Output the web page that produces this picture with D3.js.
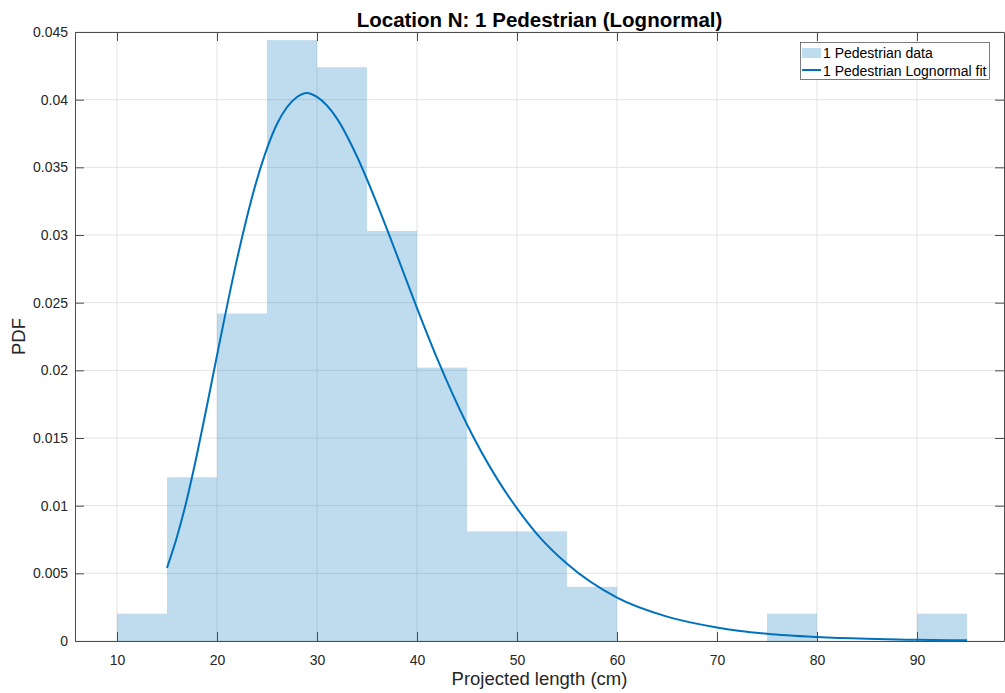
<!DOCTYPE html>
<html>
<head>
<meta charset="utf-8">
<script src="https://cdn.jsdelivr.net/npm/d3@7"></script>
<style>
  body { margin: 0; background: #fff; }
  text { font-family: "Liberation Sans", Arial, sans-serif; }
</style>
</head>
<body>
<div id="chart"></div>
<script>
// histogram bins (left edge, right edge) and PDF heights
var binEdges = [10, 15, 20, 25, 30, 35, 40, 45, 50, 55, 60, 65, 70, 75, 80, 85, 90, 95];
var binPdf = [0.00202, 0.0121, 0.0242, 0.0444, 0.0424, 0.0303, 0.0202, 0.0081, 0.0081, 0.0040,
  0, 0, 0, 0.00202, 0, 0, 0.00202];

// lognormal fit curve
var fitX = [15, 16, 17, 18, 19, 20, 22, 24, 26, 28, 29, 30, 32, 34, 36, 38, 40, 42, 45, 48, 50, 52,
  55, 60, 65, 70, 75, 80, 85, 90, 95];
var fitY = [0.0054, 0.0077, 0.0105, 0.0138, 0.0174, 0.0211, 0.0282, 0.0341, 0.0382, 0.0402, 0.0405,
  0.0402, 0.0386, 0.0358, 0.0323, 0.0285, 0.0246, 0.0209, 0.0160, 0.0120, 0.0098, 0.0079, 0.0057,
  0.0032, 0.0018, 0.0010, 0.00053, 0.00029, 0.00016, 0.00009, 0.00005];

var xTicks = [10, 20, 30, 40, 50, 60, 70, 80, 90];
var yTicks = [0, 0.005, 0.01, 0.015, 0.02, 0.025, 0.03, 0.035, 0.04, 0.045];
var yTickLabels = ['0', '0.005', '0.01', '0.015', '0.02', '0.025', '0.03', '0.035', '0.04', '0.045'];

const W = 1005, H = 693;
const margin = { left: 75, right: 1, top: 32, bottom: 52 };
const lineColor = '#0072BD';
const axisColor = '#4d4d4d';

var svg = d3.select('#chart').append('svg').attr('width', W).attr('height', H);

var x = d3.scaleLinear().domain([5.8, 98.7]).range([margin.left, W - margin.right]);
var y = d3.scaleLinear().domain([0, 0.045]).range([H - margin.bottom, margin.top]);

// grid
var grid = svg.append('g');
grid.selectAll('.gx').data(xTicks).enter().append('line')
  .attr('x1', (d) => x(d)).attr('x2', (d) => x(d))
  .attr('y1', y.range()[0]).attr('y2', y.range()[1])
  .attr('stroke', '#e3e3e3').attr('stroke-width', 1);
grid.selectAll('.gy').data(yTicks).enter().append('line')
  .attr('y1', (d) => y(d)).attr('y2', (d) => y(d))
  .attr('x1', x.range()[0]).attr('x2', x.range()[1])
  .attr('stroke', '#e3e3e3').attr('stroke-width', 1);

// bars
var bins = binPdf.map((v, i) => ({ x0: binEdges[i], x1: binEdges[i + 1], v: v }));
svg.append('g').selectAll('rect').data(bins.filter((d) => d.v > 0)).enter().append('rect')
  .attr('x', (d) => x(d.x0))
  .attr('width', (d) => x(d.x1) - x(d.x0))
  .attr('y', (d) => y(d.v))
  .attr('height', (d) => y(0) - y(d.v))
  .attr('fill', lineColor)
  .attr('fill-opacity', 0.25);

// fit line
var line = d3.line().x((d) => x(d[0])).y((d) => y(d[1])).curve(d3.curveMonotoneX);
svg.append('path')
  .datum(fitX.map((v, i) => [v, fitY[i]]))
  .attr('d', line)
  .attr('fill', 'none')
  .attr('stroke', lineColor)
  .attr('stroke-width', 2);

// axes (box with inward ticks on all sides)
var tickLen = 9;
var bottomAxis = d3.axisBottom(x).tickValues(xTicks).tickSizeInner(-tickLen).tickSizeOuter(0).tickPadding(14);
var leftAxis = d3.axisLeft(y).tickValues(yTicks).tickFormat((d, i) => yTickLabels[i])
  .tickSizeInner(-tickLen).tickSizeOuter(0).tickPadding(14);
var topAxis = d3.axisTop(x).tickValues(xTicks).tickSizeInner(-tickLen).tickSizeOuter(0).tickFormat('');
var rightAxis = d3.axisRight(y).tickValues(yTicks).tickSizeInner(-tickLen).tickSizeOuter(0).tickFormat('');

function styleAxis(g) {
  g.select('.domain').attr('stroke', axisColor);
  g.selectAll('.tick line').attr('stroke', axisColor);
  g.selectAll('.tick text').attr('fill', '#262626').style('font-size', '14px')
    .style('font-family', '"Liberation Sans", Arial, sans-serif');
}

svg.append('g').attr('transform', `translate(0,${y(0)})`).call(bottomAxis).call(styleAxis);
var leftG = svg.append('g').attr('transform', `translate(${x.range()[0]},0)`).call(leftAxis).call(styleAxis);
svg.append('g').attr('transform', `translate(0,${y(0.045)})`).call(topAxis).call(styleAxis);
svg.append('g').attr('transform', `translate(${x.range()[1]},0)`).call(rightAxis).call(styleAxis);
leftG.selectAll('.tick text').attr('x', -7);

// labels
var cx = (x.range()[0] + x.range()[1]) / 2;
svg.append('text').attr('x', cx).attr('y', 26.5).attr('text-anchor', 'middle')
  .style('font-size', '20.5px').style('font-weight', 'bold').attr('fill', '#000')
  .text('Location N: 1 Pedestrian (Lognormal)');
svg.append('text').attr('x', cx).attr('y', 685).attr('text-anchor', 'middle')
  .style('font-size', '18.5px').attr('fill', '#262626')
  .text('Projected length (cm)');
svg.append('text').attr('transform', `translate(25,${(y.range()[0] + y.range()[1]) / 2}) rotate(-90)`)
  .attr('text-anchor', 'middle').style('font-size', '18.5px').attr('fill', '#262626')
  .text('PDF');

// legend
var lg = svg.append('g');
lg.append('rect').attr('x', 800.5).attr('y', 42.5).attr('width', 189).attr('height', 37)
  .attr('fill', '#fff').attr('stroke', '#262626').attr('stroke-width', 0.6);
lg.append('rect').attr('x', 802).attr('y', 48).attr('width', 19).attr('height', 10)
  .attr('fill', lineColor).attr('fill-opacity', 0.25);
lg.append('line').attr('x1', 802).attr('x2', 821).attr('y1', 70).attr('y2', 70)
  .attr('stroke', lineColor).attr('stroke-width', 2);
lg.append('text').attr('x', 823).attr('y', 58).style('font-size', '14px').attr('fill', '#000')
  .text('1 Pedestrian data');
lg.append('text').attr('x', 823).attr('y', 76).style('font-size', '14px').attr('fill', '#000')
  .text('1 Pedestrian Lognormal fit');
</script>
</body>
</html>
